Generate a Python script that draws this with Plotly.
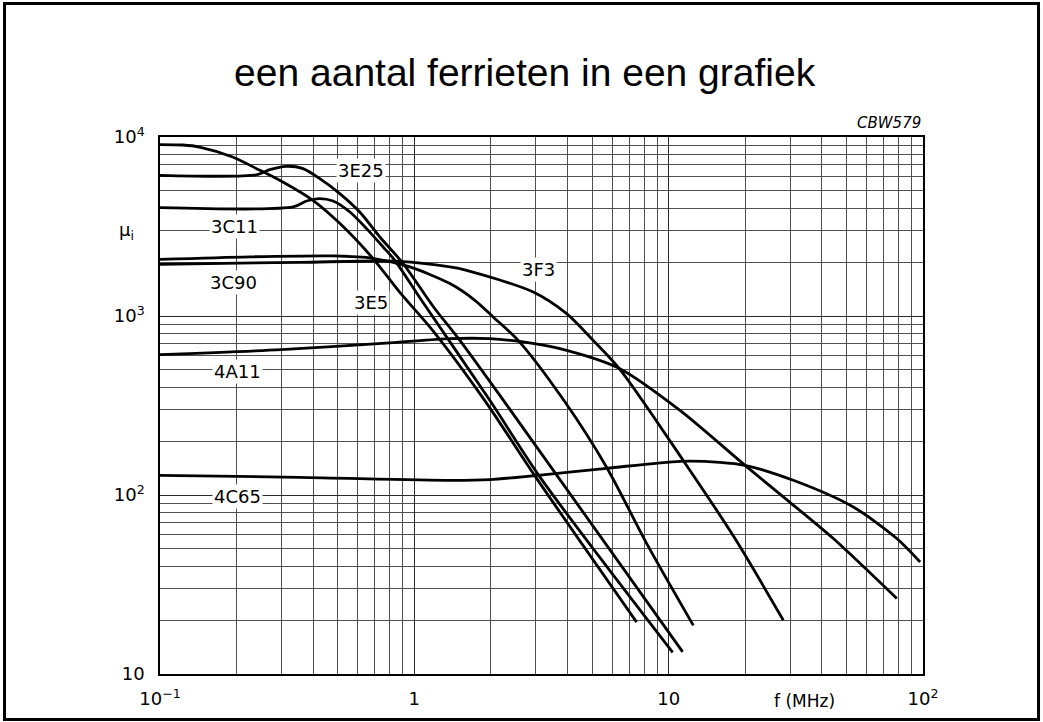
import numpy as np
import plotly.graph_objects as go

# ---- data (f in MHz, initial permeability mu_i) ----
f_3E5 = [0.1, 0.123, 0.143, 0.193, 0.247, 0.304, 0.399, 0.509, 0.687, 0.877, 1.18, 1.89, 3.03, 7.48]
mu_3E5 = [9070, 9020, 8790, 7730, 6515, 5605, 4430, 3295, 2100, 1356, 832, 338, 123.5, 19.5]

f_3E25 = [0.1, 0.239, 0.27, 0.314, 0.365, 0.425, 0.509, 0.61, 0.732, 0.904, 1.19, 1.51, 2.24, 11.35]
mu_3E25 = [6110, 6150, 6575, 6860, 6660, 5855, 4830, 3811, 2763, 1962, 1123, 731, 338, 13.3]

f_3C11 = [0.1, 0.334, 0.377, 0.425, 0.479, 0.558, 0.649, 0.754, 0.838, 1.067, 1.98, 3.15, 10.37]
mu_3C11 = [4030, 4065, 4390, 4530, 4390, 3811, 3078, 2429, 2047, 1224, 338, 123.5, 13.2]

f_3C90 = [0.1, 0.225, 0.479, 0.687, 0.96, 1.38, 1.73, 2.042, 2.56, 3.87, 5.7, 8.2, 12.5]
mu_3C90 = [2070, 2140, 2165, 2100, 1880, 1517, 1224, 987, 731, 338, 143, 53.5, 18.7]

f_3F3 = [0.1, 0.354, 0.877, 1.38, 1.605, 2.934, 3.97, 5.05, 6.43, 11.41, 18.23, 28.24]
mu_3F3 = [1945, 1995, 2021, 1880, 1800, 1362, 1031, 731, 504, 156, 57.1, 19.95]

f_4A11 = [0.1, 0.3, 0.8, 1.38, 1.98, 2.68, 3.97, 6.43, 11.08, 19.96, 30.0, 44.4, 78.9]
mu_4A11 = [609, 649, 707, 747, 747, 716, 643, 508, 297, 146.5, 91, 57.1, 26.4]

f_4C65 = [0.1, 0.354, 1.38, 1.98, 2.934, 5.7, 11.08, 15.9, 19.96, 30.9, 53.2, 78.9, 97.4]
mu_4C65 = [128.8, 125.6, 120.8, 121.9, 128, 141, 154.3, 152.3, 146.5, 120.8, 85.7, 57.1, 42.2]

label_text = ["3E25", "3C11", "3C90", "3E5", "3F3", "4A11", "4C65"]
label_f = [0.616, 0.1967, 0.1937, 0.673, 3.069, 0.2026, 0.2017]
label_mu = [6475, 3143, 1533, 1185, 1819, 492, 98.6]

x_tickvals = [0.1, 1, 10, 100]
x_ticktext = ["10<sup>\u22121</sup>", "1", "10", "10<sup>2</sup>"]
y_tickvals = [10, 100, 1000, 10000]
y_ticktext = ["10", "10<sup>2</sup>", "10<sup>3</sup>", "10<sup>4</sup>"]

minor_x = [k * 10.0 ** d for d in (-1, 0, 1) for k in range(2, 10)]
minor_y = [k * 10.0 ** d for d in (1, 2, 3) for k in range(2, 10)]

curves = [
    ("3E5", f_3E5, mu_3E5),
    ("3E25", f_3E25, mu_3E25),
    ("3C11", f_3C11, mu_3C11),
    ("3C90", f_3C90, mu_3C90),
    ("3F3", f_3F3, mu_3F3),
    ("4A11", f_4A11, mu_4A11),
    ("4C65", f_4C65, mu_4C65),
]

fig = go.Figure()
for name, f, mu in curves:
    fig.add_trace(go.Scatter(
        x=f, y=mu, mode="lines", name=name,
        line=dict(color="black", width=2.8, shape="spline", smoothing=0.8),
        hoverinfo="x+y+name",
    ))

FONT = "DejaVu Sans"

for t, f, mu in zip(label_text, label_f, label_mu):
    fig.add_annotation(
        x=np.log10(f), y=np.log10(mu), xref="x", yref="y",
        xanchor="center", yanchor="middle",
        text=t, showarrow=False, bgcolor="white", borderpad=1,
        font=dict(family=FONT, size=18, color="black"),
    )

# axis titles & id
fig.add_annotation(x=-0.044, y=0.825, xref="paper", yref="paper",
                   xanchor="center", yanchor="middle",
                   text="\u03bc<sub>i</sub>", showarrow=False,
                   font=dict(family=FONT, size=18, color="black"))
fig.add_annotation(x=0.8453, y=-0.0503, xref="paper", yref="paper",
                   xanchor="center", yanchor="middle",
                   text="f (MHz)", showarrow=False,
                   font=dict(family=FONT, size=17, color="black"))
fig.add_annotation(x=1.0, y=1.027, xref="paper", yref="paper",
                   xanchor="right", yanchor="middle",
                   text="<i>CBW579</i>", showarrow=False,
                   font=dict(family=FONT, size=15, color="black"))

# outer frame
fig.add_shape(type="rect", xref="paper", yref="paper",
              x0=-0.2038, x1=1.1514, y0=-0.0847, y1=1.2486,
              line=dict(color="black", width=3), fillcolor="rgba(0,0,0,0)")

axis_common = dict(
    type="log", showgrid=True, gridcolor="#2a2a2a", gridwidth=1,
    showline=True, linecolor="black", linewidth=1.5, mirror=True,
    zeroline=False, ticks="",
    tickfont=dict(family=FONT, size=18, color="black"),
)

fig.update_xaxes(
    range=[-1, 2], tickvals=x_tickvals, ticktext=x_ticktext,
    minor=dict(tickvals=minor_x, showgrid=True, gridcolor="#505050", gridwidth=1, ticks=""),
    ticklabelstandoff=8, **axis_common,
)
fig.update_yaxes(
    range=[1, 4], tickvals=y_tickvals, ticktext=y_ticktext,
    minor=dict(tickvals=minor_y, showgrid=True, gridcolor="#505050", gridwidth=1, ticks=""),
    ticklabelstandoff=10, **axis_common,
)

fig.update_layout(
    width=1043, height=722,
    margin=dict(l=160, r=120, t=137, b=48),
    paper_bgcolor="white", plot_bgcolor="white",
    showlegend=False,
    title=dict(
        text="een aantal ferrieten in een grafiek",
        x=0.503, y=0.9, xref="container", yref="container",
        xanchor="center", yanchor="middle",
        font=dict(family="Liberation Sans, Arial", size=39, color="black"),
    ),
)

fig.write_html("out.html", config={"displayModeBar": False},
               post_script="document.body.style.margin='0px';")
